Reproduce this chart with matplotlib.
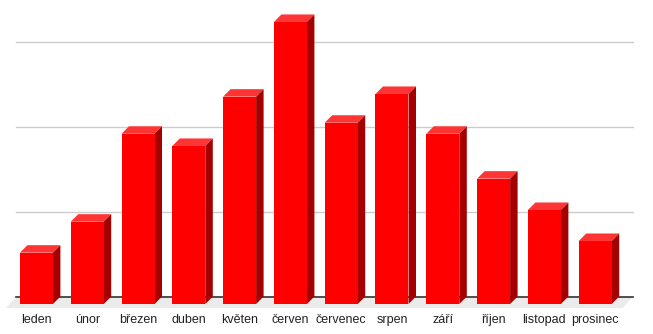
import numpy as np
import matplotlib.pyplot as plt
from matplotlib.patches import Polygon

mesice = ['leden', 'únor', 'březen', 'duben', 'květen', 'červen',
          'červenec', 'srpen', 'září', 'říjen', 'listopad', 'prosinec']
hodnoty = [30.3, 48.6, 100.5, 93.3, 122.4, 166.5, 107, 124, 100.5, 74, 55.5, 37.2]
mrizka = [50, 100, 150]

# pixel -> data scale (category spacing ~50.8 px, 50 units ~84.7 px)
px_x = 1 / 50.8
px_y = 50 / 84.7
dx, dy = 7.5 * px_x, 7.5 * px_y     # bar depth
fdx, fdy = 10.5 * px_x, 11.5 * px_y  # floor depth
sirka = 33 / 50.8

fig = plt.figure(figsize=(6.53, 3.34), dpi=100)
ax = fig.add_axes([0, 0, 1, 1])
ax.set_xlim(-0.5 - 11 * px_x, -0.5 + 642 * px_x)
ax.set_ylim(-30 * px_y, 304 * px_y)
ax.axis('off')

x0 = -0.5 - 5 * px_x + fdx
x1 = 11.5 + 2 * px_x + fdx
# floor (back edge lifted by floor depth, front edge below bar bottoms)
front_y = -4 * px_y
back_y = front_y + fdy
ax.add_patch(Polygon([(x0 - fdx, front_y), (x1 - fdx, front_y), (x1, back_y), (x0, back_y)],
                     closed=True, facecolor='#ebebeb', edgecolor='none', zorder=1))
ax.plot([x0, x1], [back_y, back_y], color='#333333', lw=1.2, zorder=2)
for g in mrizka:
    ax.plot([x0, x1], [g + back_y, g + back_y], color='#cccccc', lw=1, zorder=0)

x = np.arange(len(mesice))
ax.bar(x, hodnoty, width=sirka, bottom=0, color='#ff0000', zorder=4)
for xi, h in zip(x, hodnoty):
    l, r = xi - sirka / 2, xi + sirka / 2
    ax.add_patch(Polygon([(l, h), (r, h), (r + dx, h + dy), (l + dx, h + dy)],
                         closed=True, facecolor='#ff3535', edgecolor='none', zorder=3))
    ax.add_patch(Polygon([(r, 0), (r + dx, dy), (r + dx, h + dy), (r, h)],
                         closed=True, facecolor='#a50000', edgecolor='none', zorder=3))
    ax.text(xi, -16 * px_y, mesice[xi], ha='center', va='center',
            fontsize=9, color='#222222', family='Liberation Sans')

fig.savefig('out.png', dpi=100)
